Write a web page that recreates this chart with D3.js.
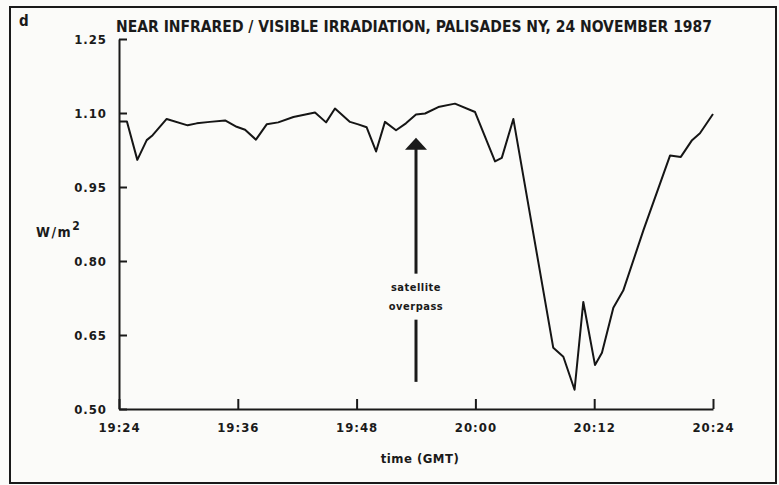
<!DOCTYPE html>
<html>
<head>
<meta charset="utf-8">
<script src="https://cdn.jsdelivr.net/npm/d3@7"></script>
<style>
  body { margin: 0; background: #fbfbf9; }
  text { font-family: "DejaVu Sans Condensed", "DejaVu Sans", sans-serif; font-weight: bold; fill: #1a1a1a; }
</style>
</head>
<body>
<div id="chart"></div>
<script>
// readings, time (GMT) and irradiance
var times = ["19:24:00","19:24:48","19:25:51","19:26:48","19:27:24","19:28:49","19:30:56","19:31:51",
  "19:33:11","19:34:43","19:35:53","19:36:44","19:37:50","19:38:55","19:40:05","19:41:37","19:43:48",
  "19:44:55","19:45:49","19:47:20","19:48:10","19:49:01","19:49:58","19:50:52","19:51:59","19:52:59",
  "19:54:00","19:54:55","19:56:15","19:57:56","19:59:58","20:01:59","20:02:40","20:03:50","20:07:52",
  "20:08:53","20:10:01","20:10:54","20:12:05","20:12:47","20:13:56","20:14:56","20:16:58","20:19:40",
  "20:20:45","20:21:53","20:22:41","20:24:00"];
var values = [1.083,1.083,1.005,1.045,1.055,1.088,1.075,1.079,
  1.082,1.085,1.072,1.066,1.046,1.077,1.081,1.092,1.101,
  1.081,1.109,1.082,1.077,1.071,1.022,1.082,1.065,1.079,
  1.097,1.099,1.112,1.119,1.102,1.002,1.009,1.088,0.624,
  0.606,0.539,0.717,0.589,0.614,0.705,0.740,0.862,1.014,
  1.011,1.045,1.059,1.098];
var yTicks = [0.50, 0.65, 0.80, 0.95, 1.10, 1.25];
var xTicks = ["19:24","19:36","19:48","20:00","20:12","20:24"];
var overpass = {time: "19:54", top: 1.05, bottom: 0.555};

var width = 779, height = 485;
var margin = {top: 39, right: 66, bottom: 76, left: 119};

var parse = d3.timeParse("%H:%M:%S");
var parseHM = d3.timeParse("%H:%M");

var svg = d3.select("#chart").append("svg")
    .attr("width", width)
    .attr("height", height);

// scanned page frame
svg.append("rect")
    .attr("x", 10).attr("y", 7)
    .attr("width", 766).attr("height", 476)
    .style("fill", "none")
    .style("stroke", "#1a1a1a")
    .style("stroke-width", 2);

var x = d3.scaleTime()
    .domain([parseHM(xTicks[0]), parseHM(xTicks[xTicks.length - 1])])
    .range([margin.left, width - margin.right]);
var y = d3.scaleLinear()
    .domain([0.50, 1.25])
    .range([height - margin.bottom, margin.top]);

svg.append("g")
    .attr("transform", "translate(0," + (height - margin.bottom) + ")")
    .call(d3.axisBottom(x)
        .tickValues(xTicks.map(parseHM))
        .tickFormat(d3.timeFormat("%H:%M"))
        .tickSizeInner(-10)
        .tickSizeOuter(0)
        .tickPadding(14));

svg.append("g")
    .attr("transform", "translate(" + margin.left + ",0)")
    .call(d3.axisLeft(y)
        .tickValues(yTicks)
        .tickFormat(d3.format(".2f"))
        .tickSizeInner(-8)
        .tickSizeOuter(0)
        .tickPadding(12));

svg.selectAll(".domain, .tick line")
    .style("stroke", "#1a1a1a")
    .style("stroke-width", 2);
svg.selectAll(".tick text")
    .style("font-size", "13px")
    .style("letter-spacing", "1px")
    .style("fill", "#1a1a1a");

var data = times.map(function(t, i) { return {t: parse(t), v: values[i]}; });

var line = d3.line()
    .x(function(d) { return x(d.t); })
    .y(function(d) { return y(d.v); });

svg.append("path")
    .datum(data)
    .attr("d", line)
    .style("fill", "none")
    .style("stroke", "#151515")
    .style("stroke-width", 2)
    .style("stroke-linejoin", "round");

// satellite overpass arrow
var ax = x(parseHM(overpass.time));
var yTop = y(overpass.top);
var yBot = y(overpass.bottom);

svg.append("path")
    .attr("d", "M" + ax + "," + yTop + " L" + (ax - 11) + "," + (yTop + 12) +
               " L" + (ax + 11) + "," + (yTop + 12) + " Z")
    .style("fill", "#1a1a1a");
svg.append("line")
    .attr("x1", ax).attr("x2", ax)
    .attr("y1", yTop + 10).attr("y2", yTop + 136)
    .style("stroke", "#1a1a1a").style("stroke-width", 3);
svg.append("line")
    .attr("x1", ax).attr("x2", ax)
    .attr("y1", yTop + 182).attr("y2", yBot)
    .style("stroke", "#1a1a1a").style("stroke-width", 3);

svg.append("text")
    .attr("x", ax).attr("y", yTop + 153)
    .attr("text-anchor", "middle")
    .style("font-size", "11px")
    .style("letter-spacing", "0.5px")
    .text("satellite");
svg.append("text")
    .attr("x", ax).attr("y", yTop + 172)
    .attr("text-anchor", "middle")
    .style("font-size", "11px")
    .style("letter-spacing", "0.5px")
    .text("overpass");

// titles and labels
svg.append("text")
    .attr("x", 19).attr("y", 26)
    .style("font-size", "15px")
    .text("d");

svg.append("text")
    .attr("x", 116).attr("y", 32)
    .attr("textLength", 596)
    .attr("lengthAdjust", "spacingAndGlyphs")
    .style("font-size", "16px")
    .text("NEAR INFRARED / VISIBLE IRRADIATION, PALISADES NY, 24 NOVEMBER 1987");

var yl = svg.append("text")
    .attr("x", 36).attr("y", 237)
    .style("font-size", "14px")
    .style("letter-spacing", "1.5px");
yl.append("tspan").text("W/m");
yl.append("tspan").attr("dy", -7).style("font-size", "12px").text("2");

svg.append("text")
    .attr("x", 420).attr("y", 463)
    .attr("text-anchor", "middle")
    .style("font-size", "13px")
    .style("letter-spacing", "0.5px")
    .text("time (GMT)");
</script>
</body>
</html>
